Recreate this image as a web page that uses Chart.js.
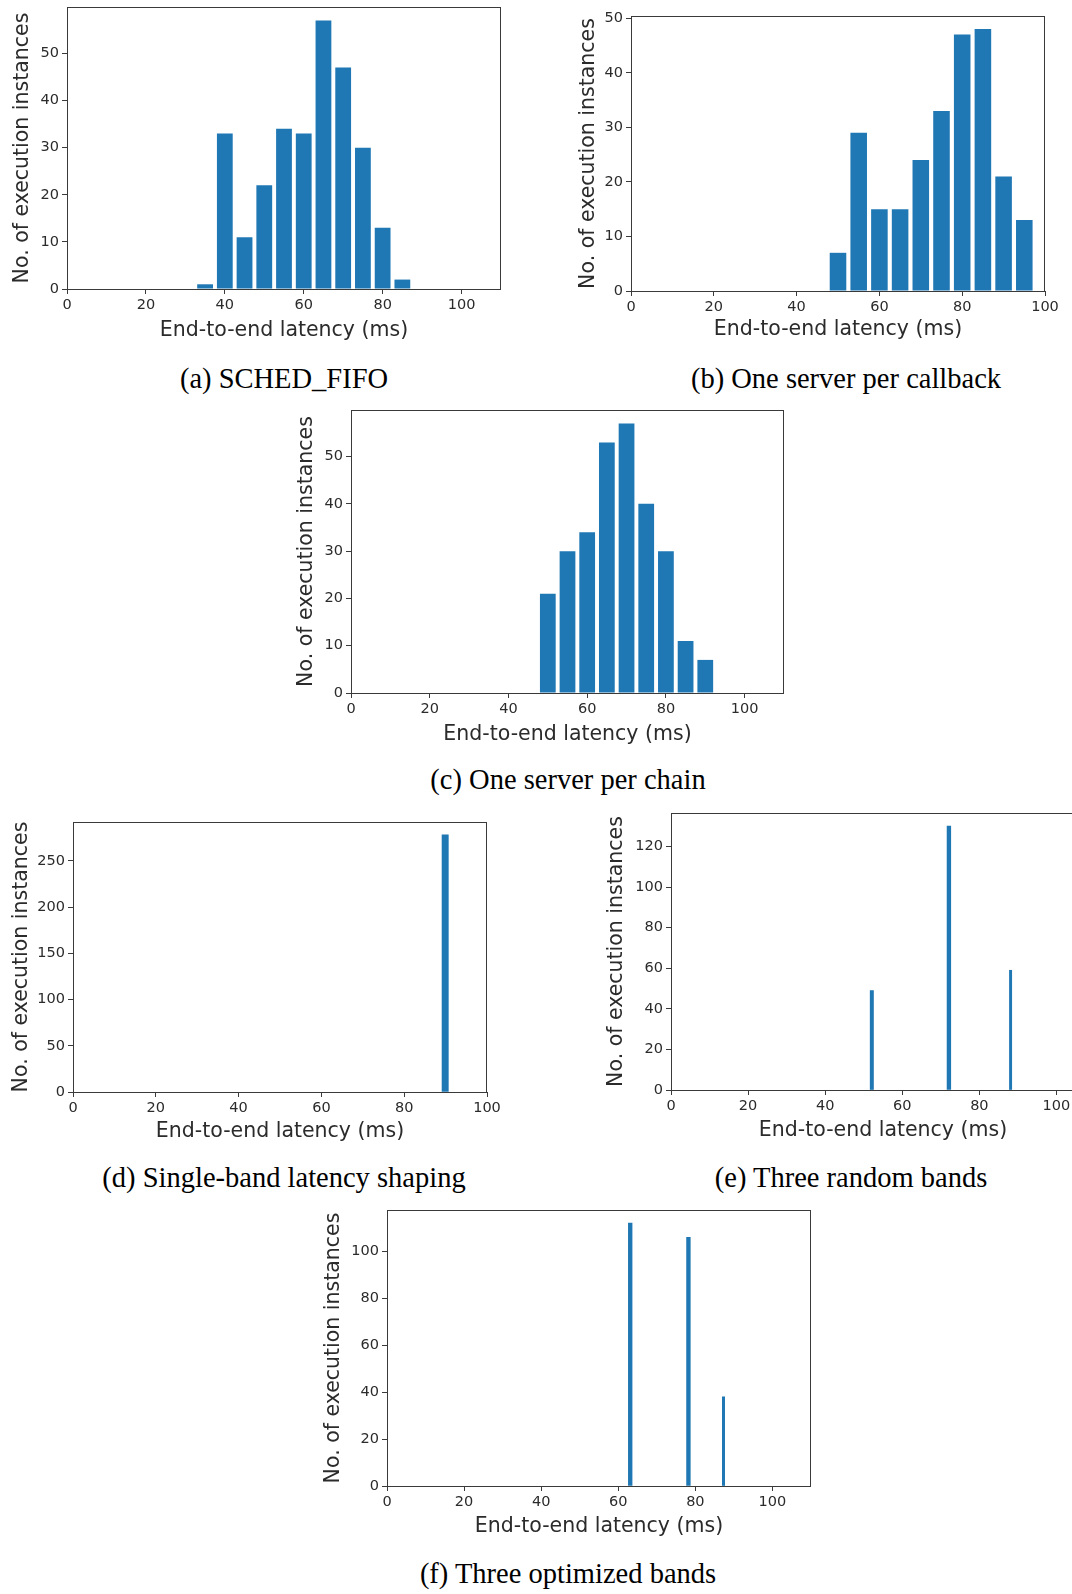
<!DOCTYPE html>
<html>
<head>
<meta charset="utf-8">
<script src="https://cdn.jsdelivr.net/npm/chart.js@4/dist/chart.umd.min.js"></script>
<style>
  html, body { margin: 0; padding: 0; background: #fff; overflow: hidden; }
  body { position: relative; width: 1072px; height: 1594px; }
  canvas { position: absolute; }
  .cap { position: absolute; font-family: "Liberation Serif", "Times New Roman", serif; font-size: 28.5px; line-height: 28.5px; white-space: nowrap; color: #000; transform: translateX(-50%); }
</style>
</head>
<body>
<canvas id="ca"></canvas>
<canvas id="cb"></canvas>
<canvas id="cc"></canvas>
<canvas id="cd"></canvas>
<canvas id="ce"></canvas>
<canvas id="cf"></canvas>
<div class="cap" style="left:284px; top:365px">(a) SCHED_FIFO</div>
<div class="cap" style="left:846px; top:365px">(b) One server per callback</div>
<div class="cap" style="left:568px; top:766px">(c) One server per chain</div>
<div class="cap" style="left:284px; top:1164px">(d) Single-band latency shaping</div>
<div class="cap" style="left:851px; top:1164px">(e) Three random bands</div>
<div class="cap" style="left:568px; top:1560px">(f) Three optimized bands</div>
<script>
// data (bin centre in ms, count)
const fifoLatency = [35, 40, 45, 50, 55, 60, 65, 70, 75, 80, 85];
const fifoCount = [1, 33, 11, 22, 34, 33, 57, 47, 30, 13, 2];

const perCallbackLatency = [50, 55, 60, 65, 70, 75, 80, 85, 90, 95];
const perCallbackCount = [7, 29, 15, 15, 24, 33, 47, 48, 21, 13];

const perChainLatency = [50, 55, 60, 65, 70, 75, 80, 85, 90];
const perChainCount = [21, 30, 34, 53, 57, 40, 30, 11, 7];

const singleBandLatency = [89.9];
const singleBandCount = [278];

const randomBandsLatency = [52.1, 72.1, 88.1];
const randomBandsCount = [49, 130, 59];

const optBandsLatency = [63.1, 78.2, 87.3];
const optBandsCount = [112, 106, 38];

const xTicks = [0, 20, 40, 60, 80, 100];

const blue = '#1f77b4';
const ink = '#2b2b2b';
const yTitle = 'No. of execution instances';
const xTitle = 'End-to-end latency (ms)';

Chart.defaults.font.family = 'DejaVu Sans';
Chart.defaults.color = ink;

const frame = {
  id: 'frame',
  afterDraw(chart) {
    const { ctx, chartArea: a } = chart;
    ctx.save();
    ctx.strokeStyle = '#3a3a3a';
    ctx.lineWidth = 1;
    ctx.strokeRect(a.left + 0.5, a.top + 0.5, a.right - a.left - 1, a.bottom - a.top);
    ctx.restore();
  }
};

// box = plot area in page pixels, yw / xh = room for y and x axis
function drawHist(id, box, xs, ys, opts) {
  const padTop = 14, padRight = 22;
  const cv = document.getElementById(id);
  cv.width = box.w + box.yw + padRight;
  cv.height = box.h + padTop + box.xh;
  cv.style.left = (box.l - box.yw) + 'px';
  cv.style.top = (box.t - padTop) + 'px';

  let datasets;
  if (opts.thick) {
    datasets = xs.map((x, i) => ({
      data: [{ x: x, y: ys[i] }],
      backgroundColor: blue,
      barThickness: opts.thick[i],
      grouped: false
    }));
  } else {
    datasets = [{
      data: xs.map((x, i) => ({ x: x, y: ys[i] })),
      backgroundColor: blue,
      barPercentage: 0.8,
      categoryPercentage: 1.0
    }];
  }

  new Chart(cv, {
    type: 'bar',
    data: { datasets },
    options: {
      responsive: false,
      animation: false,
      layout: { padding: { top: padTop, right: padRight, left: 0, bottom: 0 } },
      plugins: { legend: { display: false }, tooltip: { enabled: false } },
      scales: {
        x: {
          type: 'linear',
          offset: false,
          min: 0,
          max: opts.xMax,
          afterFit(s) { s.height = box.xh; },
          afterBuildTicks(s) { s.ticks = xTicks.filter(v => v <= opts.xMax).map(v => ({ value: v })); },
          ticks: { font: { size: 14.5 }, padding: 3, maxRotation: 0, autoSkip: false },
          grid: { offset: false, drawOnChartArea: false, drawTicks: true, tickLength: 5, tickColor: '#3a3a3a' },
          border: { display: false },
          title: { display: true, text: xTitle, font: { size: 20.5, lineHeight: 1.2 }, padding: 0, color: ink }
        },
        y: {
          min: 0,
          max: opts.yMax,
          afterFit(s) { s.width = box.yw; },
          ticks: { stepSize: opts.yStep, includeBounds: false, font: { size: 14.5 }, padding: 3 },
          grid: { drawOnChartArea: false, drawTicks: true, tickLength: 5, tickColor: '#3a3a3a' },
          border: { display: false },
          title: { display: true, text: yTitle, font: { size: 20.5, lineHeight: 1.2 }, padding: 0, color: ink }
        }
      }
    },
    plugins: [frame]
  });
}

drawHist('ca', { l: 67, t: 7, w: 434, h: 282, yw: 57, xh: 54 }, fifoLatency, fifoCount,
  { xMax: 110, yMax: 59.85, yStep: 10 });
drawHist('cb', { l: 631, t: 16, w: 414, h: 275, yw: 55, xh: 51 }, perCallbackLatency, perCallbackCount,
  { xMax: 100, yMax: 50.4, yStep: 10 });
drawHist('cc', { l: 351, t: 410, w: 433, h: 283, yw: 57, xh: 54 }, perChainLatency, perChainCount,
  { xMax: 110, yMax: 59.85, yStep: 10 });
drawHist('cd', { l: 73, t: 822, w: 414, h: 270, yw: 64, xh: 52 }, singleBandLatency, singleBandCount,
  { xMax: 100, yMax: 291.9, yStep: 50, thick: [6.3] });
drawHist('ce', { l: 671, t: 813, w: 424, h: 277, yw: 67, xh: 53 }, randomBandsLatency, randomBandsCount,
  { xMax: 110, yMax: 136.5, yStep: 20, thick: [3.3, 3.7, 2.3] });
drawHist('cf', { l: 387, t: 1210, w: 424, h: 276, yw: 66, xh: 53 }, optBandsLatency, optBandsCount,
  { xMax: 110, yMax: 117.6, yStep: 20, thick: [3.7, 3.7, 2.3] });
</script>
</body>
</html>
